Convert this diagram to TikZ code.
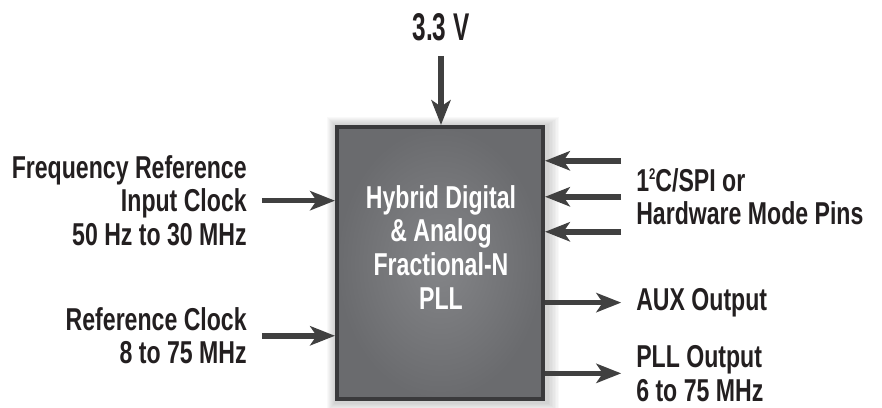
\documentclass[tikz,border=0pt]{standalone}
\usepackage{fontspec}
\setmainfont[FakeStretch=0.73]{Liberation Sans}
\newfontfamily\voltfont[FakeStretch=0.63]{Liberation Sans}
\usepackage{tikz}
\usetikzlibrary{arrows.meta,calc}
\definecolor{boxgray}{RGB}{106,107,110}
\definecolor{boxlight}{RGB}{132,133,136}
\definecolor{edgegray}{RGB}{58,58,60}
\definecolor{arrowgray}{RGB}{64,64,64}
\definecolor{labelblack}{RGB}{35,31,32}

\begin{document}
\begin{tikzpicture}[x=0.025cm, y=-0.025cm,
  lbl/.style={inner sep=0, font=\fontsize{22.5}{24}\selectfont\bfseries, text=labelblack},
  arr/.style={line width=3.9pt, draw=arrowgray, -{Stealth[length=0.62cm, width=0.48cm, inset=0.16cm]}},
  gap/.style={shorten <=0.37cm},
  gapend/.style={shorten >=0.37cm}]
\useasboundingbox (0,0) rectangle (882,408);

% soft glow behind the block
\foreach \g in {1,...,8}
  \fill[black, opacity=0.022] (335-\g,125-\g) rectangle (547+1.5*\g,403+\g);

% PLL block
\node[draw=edgegray, line width=0.1cm, inner color=boxlight, outer color=boxgray,
  minimum width=5.15cm, minimum height=6.8cm] (pll) at (440,263) {};
\node[lbl, text=white, align=center, anchor=north] (core) at (441,185)
  {Hybrid Digital\\\& Analog\\Fractional-N\\PLL};

% labels round the block
\node[lbl, anchor=north] (vdd) at (441,13) {\voltfont\fontsize{27.5}{30}\selectfont 3.3 V};
\node[lbl, align=right, anchor=north east] (freq) at (247,155)
  {Frequency Reference\\Input Clock\\50 Hz to 30 MHz};
\node[lbl, align=right, anchor=north east] (refclk) at (247,307) {Reference Clock\\8 to 75 MHz};
\node[lbl, align=left, anchor=north west] (i2c) at (636,168)
  {1\raisebox{8pt}{\fontsize{11}{11}\selectfont 2}C/SPI or\\Hardware Mode Pins};
\node[lbl, align=left, anchor=north west] (aux) at (636,288) {AUX Output};
\node[lbl, align=left, anchor=north west] (pllout) at (636,345) {PLL Output\\6 to 75 MHz};

% inputs
\draw[arr, gap] (vdd.south) -- (vdd.south |- pll.north);
\draw[arr, gap] (freq.east) -- (freq.east -| pll.west);
\draw[arr, gap] (refclk.east) -- (refclk.east -| pll.west);
\foreach \dy in {-36,0,35}
  \draw[arr, gap] ($(i2c.west)+(0,\dy)$) coordinate (pin) -- (pin -| pll.east);

% outputs
\draw[arr, gapend] (aux.west -| pll.east) -- (aux.west);
\draw[arr, gapend] (pllout.west -| pll.east) -- (pllout.west);
\end{tikzpicture}
\end{document}
